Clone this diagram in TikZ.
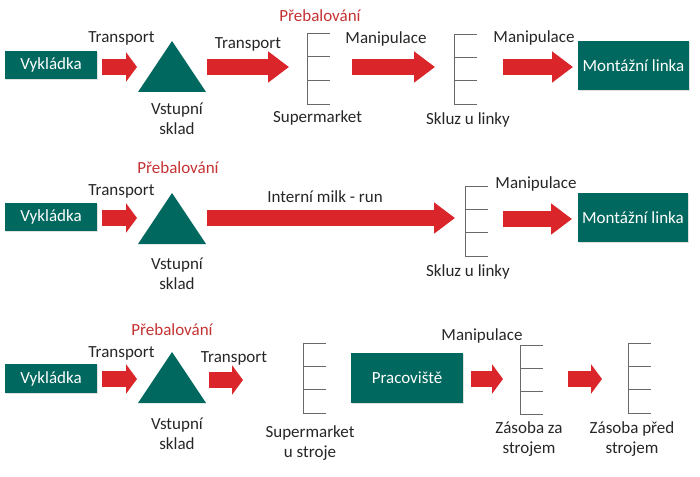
\documentclass[tikz,border=0pt]{standalone}
\usepackage{fontspec}
\setmainfont{Carlito}
\usetikzlibrary{arrows.meta,shadows}
\definecolor{boxteal}{RGB}{0,104,94}
\definecolor{arrowred}{RGB}{218,37,42}
\definecolor{labelred}{RGB}{196,50,50}
\definecolor{shelfgray}{RGB}{105,105,105}
\tikzset{
  lbl/.style={inner sep=0, align=center, text=black!85, font=\fontsize{17}{20}\selectfont},
  redlbl/.style={lbl, text=labelred},
  box/.style={lbl, fill=boxteal, text=white,
    drop shadow={opacity=0.25, shadow xshift=1pt, shadow yshift=-1pt}},
  store/.style={fill=boxteal},
  flow/.style={draw=arrowred, line width=16pt, -{Triangle[length=21pt,width=30pt]}},
  flowshort/.style={flow, -{Triangle[length=11pt,width=29pt]}},
  shelf/.style={draw=shelfgray, line width=0.8pt},
}
\begin{document}
\begin{tikzpicture}[x=1pt,y=-1pt]
  \useasboundingbox (0,0) rectangle (700,476);
  % row 1
  \node[box, minimum width=92, minimum height=28] (vyk1) at (51,65) {Vykládka};
  \node[box, minimum width=111, minimum height=49] (mont1) at (633.5,65.5) {Montážní linka};
  \fill[store] (172,41) -- (206,92) -- (138,92) -- cycle;
  \node[lbl] (tr11) at (121.5,38) {Transport};
  \node[lbl] (tr12) at (248,44) {Transport};
  \node[redlbl] (preb1) at (320,16) {Přebalování};
  \node[lbl] (vst1) at (177,119) {Vstupní\\sklad};
  \node[lbl] (sup1) at (317.5,118) {Supermarket};
  \node[lbl] (man11) at (386,39) {Manipulace};
  \node[lbl] (skl1) at (468,120) {Skluz u linky};
  \node[lbl] (man12) at (534,38) {Manipulace};
  \coordinate (a11s) at (102,67); \coordinate (a11e) at (137,67);
  \coordinate (a12s) at (207,67); \coordinate (a12e) at (289,67);
  \coordinate (a13s) at (352,67); \coordinate (a13e) at (435,67);
  \coordinate (a14s) at (503,67); \coordinate (a14e) at (573,67);
  \draw[flowshort] (a11s) -- (a11e);
  \draw[flow] (a12s) -- (a12e);
  \draw[flow] (a13s) -- (a13e);
  \draw[flow] (a14s) -- (a14e);
  % row 2
  \node[box, minimum width=92, minimum height=28] (vyk2) at (51,217) {Vykládka};
  \node[box, minimum width=110, minimum height=49] (mont2) at (633,217.5) {Montážní linka};
  \fill[store] (172,193) -- (206,244) -- (138,244) -- cycle;
  \node[lbl] (tr21) at (121.5,191) {Transport};
  \node[redlbl] (preb2) at (178,168) {Přebalování};
  \node[lbl] (vst2) at (177,273.5) {Vstupní\\sklad};
  \node[lbl] (milk) at (325,197) {Interní milk - run};
  \node[lbl] (man2) at (536,184) {Manipulace};
  \node[lbl] (skl2) at (468,272) {Skluz u linky};
  \coordinate (a21s) at (102,218); \coordinate (a21e) at (137,218);
  \coordinate (a22s) at (207,218); \coordinate (a22e) at (455,218);
  \coordinate (a23s) at (503,219); \coordinate (a23e) at (572,219);
  \draw[flowshort] (a21s) -- (a21e);
  \draw[flow] (a22s) -- (a22e);
  \draw[flow] (a23s) -- (a23e);
  % row 3
  \node[box, minimum width=92, minimum height=29] (vyk3) at (51,378.5) {Vykládka};
  \node[box, minimum width=112, minimum height=50] (prac) at (407,378) {Pracoviště};
  \fill[store] (172,352) -- (206,403) -- (138,403) -- cycle;
  \node[redlbl] (preb3) at (172,330) {Přebalování};
  \node[lbl] (tr31) at (121.5,353) {Transport};
  \node[lbl] (tr32) at (234,358) {Transport};
  \node[lbl] (vst3) at (177,434) {Vstupní\\sklad};
  \node[lbl] (sup3) at (310,443.5) {Supermarket\\u stroje};
  \node[lbl] (man3) at (482,336) {Manipulace};
  \node[lbl] (zaza) at (529,439.5) {Zásoba za\\strojem};
  \node[lbl] (zapr) at (632,439.5) {Zásoba před\\strojem};
  \coordinate (a31s) at (102,379); \coordinate (a31e) at (137,379);
  \coordinate (a32s) at (209,380); \coordinate (a32e) at (243,380);
  \coordinate (a33s) at (471,379); \coordinate (a33e) at (503,379);
  \coordinate (a34s) at (568,379); \coordinate (a34e) at (602,379);
  \draw[flowshort] (a31s) -- (a31e);
  \draw[flowshort] (a32s) -- (a32e);
  \draw[flowshort] (a33s) -- (a33e);
  \draw[flowshort] (a34s) -- (a34e);
  % shelves
  \foreach \sx/\st/\sb in {307/33/104, 454/34/104, 465/186/256, 303/343/413, 520/345/414, 628/343/413} {
    \draw[shelf] (\sx,\st) -- (\sx,\sb);
    \foreach \k in {0,1,2,3}
      \draw[shelf] (\sx,{\st+\k*(\sb-\st)/3}) -- ({\sx+23},{\st+\k*(\sb-\st)/3});
  }
\end{tikzpicture}
\end{document}
